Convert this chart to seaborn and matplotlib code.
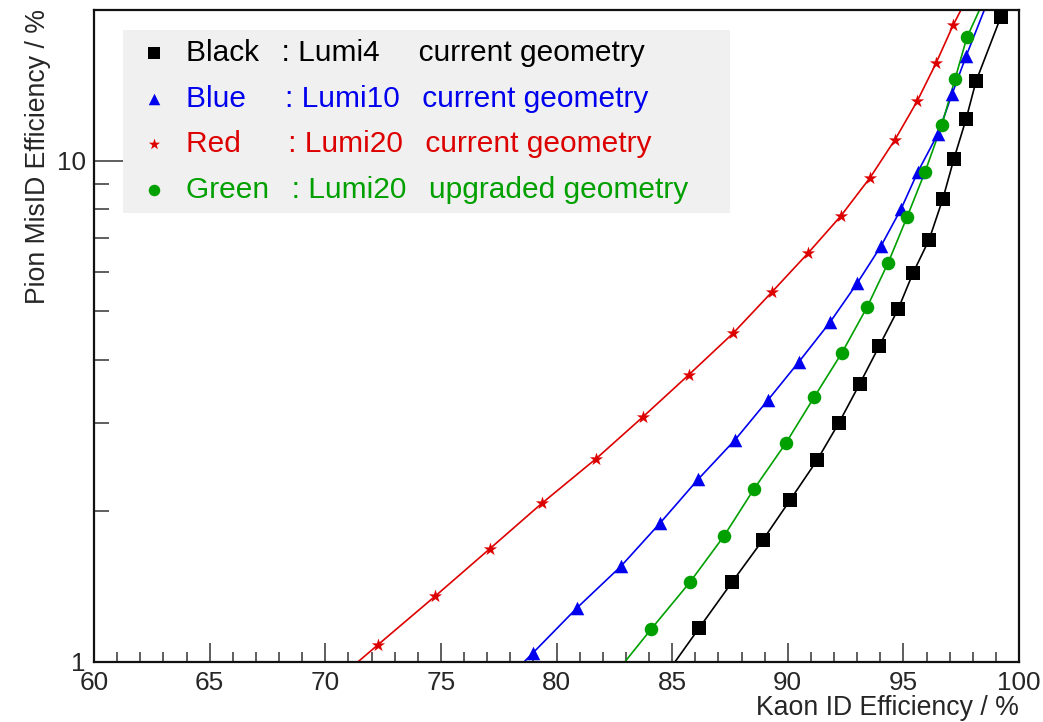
import matplotlib
matplotlib.use("Agg")
import matplotlib.pyplot as plt
import seaborn as sns
import pandas as pd
from matplotlib.ticker import FixedLocator, FuncFormatter, MultipleLocator, NullFormatter

# ---------------- data ----------------
black_x = [84.65, 86.16, 87.59, 88.93, 90.10, 91.26, 92.22, 93.12, 93.95, 94.77,
           95.42, 96.11, 96.71, 97.19, 97.71, 98.14, 99.22, 99.60]
black_y = [0.93, 1.165, 1.44, 1.75, 2.10, 2.52, 3.00, 3.59, 4.26, 5.05,
           5.97, 6.95, 8.40, 10.1, 12.1, 14.4, 19.4, 22.5]

blue_x = [77.10, 78.98, 80.89, 82.79, 84.48, 86.12, 87.72, 89.15, 90.49, 91.83,
          93.00, 94.03, 94.90, 95.63, 96.50, 97.10, 97.71, 99.10]
blue_y = [0.85, 1.04, 1.28, 1.55, 1.89, 2.31, 2.77, 3.33, 3.97, 4.76,
          5.69, 6.75, 8.01, 9.51, 11.33, 13.56, 16.16, 23.5]

red_x = [69.90, 72.28, 74.75, 77.12, 79.37, 81.71, 83.74, 85.73, 87.63, 89.32,
         90.88, 92.30, 93.56, 94.64, 95.59, 96.41, 97.15, 97.95]
red_y = [0.87, 1.08, 1.35, 1.68, 2.07, 2.54, 3.08, 3.74, 4.52, 5.47,
         6.54, 7.76, 9.25, 11.02, 13.13, 15.65, 18.64, 22.0]

green_x = [82.50, 84.09, 85.77, 87.24, 88.54, 89.92, 91.14, 92.35, 93.43, 94.34,
           95.16, 95.94, 96.67, 97.23, 97.75, 98.70]
green_y = [0.94, 1.16, 1.44, 1.78, 2.21, 2.73, 3.37, 4.14, 5.10, 6.25,
           7.72, 9.51, 11.81, 14.54, 17.64, 22.0]

TS = "\u2009"  # thin space for fine alignment of the legend columns
labels = ["Black  " + TS + ": Lumi4    " + TS + "current geometry",
          "Blue    " + TS + ": Lumi10  " + TS + "current geometry",
          "Red     " + TS + ": Lumi20  " + TS + "current geometry",
          "Green  " + TS + ": Lumi20  " + TS + "upgraded geometry"]
colors = ["#000000", "#0000ee", "#dd0000", "#00a000"]
markers = ["s", "^", "*", "o"]
msizes = [90, 95, 100, 95]

x_label = "Kaon ID Efficiency / %"
y_label = "Pion MisID Efficiency / %"
x_ticks = [60, 65, 70, 75, 80, 85, 90, 95, 100]
y_ticks = [1, 10]

# ---------------- plot ----------------
sns.set_style("ticks")
plt.rcParams["font.family"] = ["Liberation Sans", "DejaVu Sans"]

fig = plt.figure(figsize=(10.43, 7.22), dpi=100)
ax = fig.add_axes([94 / 1043, (722 - 661.5) / 722, (1019 - 94) / 1043, (661.5 - 9.5) / 722])

all_x = [black_x, blue_x, red_x, green_x]
all_y = [black_y, blue_y, red_y, green_y]

handles = []
for xs, ys, lab, col, mk, ms in zip(all_x, all_y, labels, colors, markers, msizes):
    df = pd.DataFrame({"x": xs, "y": ys})
    sns.lineplot(data=df, x="x", y="y", ax=ax, color=col, lw=1.2,
                 sort=False, estimator=None, legend=False, zorder=2)
    sns.scatterplot(data=df, x="x", y="y", ax=ax, color=col, marker=mk,
                    s=ms, linewidth=0, legend=False, zorder=3)
    handles.append(ax.collections[-1])

ax.set_yscale("log")
ax.set_xlim(60, 100)
ax.set_ylim(1, 20.04)

ax.xaxis.set_major_locator(FixedLocator(x_ticks))
ax.xaxis.set_minor_locator(MultipleLocator(1))
ax.yaxis.set_major_locator(FixedLocator(y_ticks))
ax.yaxis.set_minor_locator(FixedLocator([2, 3, 4, 5, 6, 7, 8, 9]))
ax.yaxis.set_major_formatter(FuncFormatter(lambda v, p: "%g" % v))
ax.yaxis.set_minor_formatter(NullFormatter())

ax.tick_params(axis="both", which="both", direction="in", width=1.1, color="#333333",
               labelsize=18.8, top=False, right=False)
ax.tick_params(axis="x", which="major", length=14, pad=7)
ax.tick_params(axis="x", which="minor", length=7)
ax.tick_params(axis="y", which="major", length=21, pad=6)
ax.tick_params(axis="y", which="minor", length=11)

for sp in ax.spines.values():
    sp.set_visible(True)
    sp.set_linewidth(1.6)
    sp.set_color("#111111")

ax.set_xlabel(x_label, fontsize=19.2, loc="right", labelpad=0)
ax.set_ylabel(y_label, fontsize=19.2, loc="top", labelpad=4)

leg = ax.legend(handles, labels, loc="upper left",
                bbox_to_anchor=(29 / 925, 0.0, 607 / 925, (661.5 - 30) / 652),
                mode="expand", borderaxespad=0, fontsize=21.5,
                frameon=True, fancybox=False, facecolor="#f0f0f0", edgecolor="none",
                framealpha=1, borderpad=0.3, labelspacing=0.59,
                handlelength=1.5, handletextpad=0.3, markerscale=0.85,
                labelcolor=colors)
leg.get_frame().set_linewidth(0)

fig.savefig("out.png", dpi=100)
